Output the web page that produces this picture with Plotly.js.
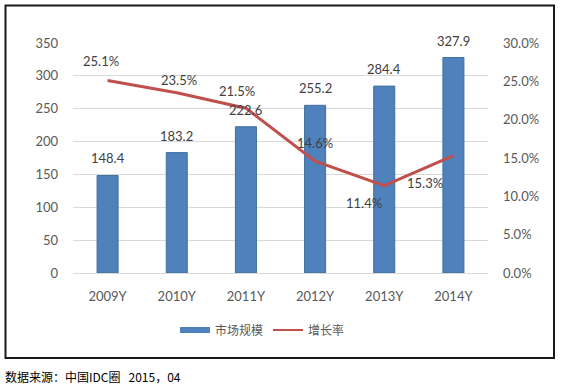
<!DOCTYPE html>
<html>
<head>
<meta charset="utf-8">
<script src="https://cdn.plot.ly/plotly-3.0.1.min.js"></script>
<style>
html,body{margin:0;padding:0;background:#fff;}
#chart{width:563px;height:387px;}
</style>
</head>
<body>
<div id="chart"></div>
<script>
// ---- data ----
const categories = ['2009Y', '2010Y', '2011Y', '2012Y', '2013Y', '2014Y'];
const marketSize = [148.4, 183.2, 222.6, 255.2, 284.4, 327.9];
const growthRate = [0.251, 0.235, 0.215, 0.146, 0.114, 0.153];
const growthLabels = ['25.1%', '23.5%', '21.5%', '14.6%', '11.4%', '15.3%'];
const seriesNames = ['市场规模', '增长率'];
const sourceNote = '数据来源：中国IDC圈\u00a0\u00a0 2015，04';

// ---- layout constants ----
const W = 563, H = 387;
const mL = 73, mR = 75, mT = 43, mB = 114;
const pw = W - mL - mR, ph = H - mT - mB;
const px = x => (x - mL) / pw;          // pixel -> paper x
const py = y => (H - mB - y) / ph;      // pixel -> paper y

const numFont = 'Lato, "Noto Sans CJK SC", sans-serif';
const cjkFont = '"Noto Sans CJK SC", "Noto Sans", sans-serif';
const barColor = '#4f81bd';
const lineColor = '#c0504d';

// label offsets for growth-rate labels (pixels)
const lineLabelShift = [[-7, 20], [2, 13], [-9, 17], [0, 18], [-20, -17], [-28, -27]];

const traces = [
  {
    type: 'bar', x: categories, y: marketSize, name: seriesNames[0],
    marker: {color: barColor, line: {color: '#41719c', width: 1}},
    showlegend: false, hoverinfo: 'none'
  },
  {
    type: 'scatter', mode: 'lines', x: categories, y: growthRate, yaxis: 'y2',
    name: seriesNames[1], line: {color: lineColor, width: 3},
    showlegend: false, hoverinfo: 'none'
  },
  // legend entries
  {type: 'scatter', mode: 'lines', x: [null], y: [null], name: seriesNames[0],
   line: {color: barColor, width: 6}, showlegend: true},
  {type: 'scatter', mode: 'lines', x: [null], y: [null], name: seriesNames[1], yaxis: 'y2',
   line: {color: lineColor, width: 2}, showlegend: true}
];

const annotations = [];
categories.forEach((c, i) => {
  annotations.push({
    x: c, y: marketSize[i], xref: 'x', yref: 'y',
    text: marketSize[i].toFixed(1), showarrow: false,
    yanchor: 'middle', xanchor: 'center', yshift: 17,
    font: {family: numFont, size: 13, color: '#404040'}
  });
  annotations.push({
    x: c, y: growthRate[i], xref: 'x', yref: 'y2',
    text: growthLabels[i], showarrow: false,
    yanchor: 'middle', xanchor: 'center',
    xshift: lineLabelShift[i][0], yshift: lineLabelShift[i][1],
    font: {family: numFont, size: 13, color: '#404040'}
  });
});
annotations.push({
  xref: 'paper', yref: 'paper', x: px(3), y: py(376),
  xanchor: 'left', yanchor: 'middle', showarrow: false,
  text: sourceNote, font: {family: cjkFont, size: 12, color: '#000000'}
});

const layout = {
  width: W, height: H,
  margin: {l: mL, r: mR, t: mT, b: mB, pad: 0},
  paper_bgcolor: '#ffffff', plot_bgcolor: '#ffffff',
  bargap: 0.696,
  showlegend: true,
  legend: {
    orientation: 'h', x: px(175), xanchor: 'left', y: py(330), yanchor: 'middle',
    font: {family: cjkFont, size: 12, color: '#595959'},
    itemwidth: 30, bgcolor: 'rgba(0,0,0,0)'
  },
  xaxis: {
    type: 'category', showgrid: false, zeroline: false, showline: false,
    ticks: '', ticklabelstandoff: 14,
    tickfont: {family: numFont, size: 13, color: '#595959'}, fixedrange: true
  },
  yaxis: {
    range: [0, 350], dtick: 50, tick0: 0,
    showgrid: true, gridcolor: '#d9d9d9', gridwidth: 1,
    zeroline: true, zerolinecolor: '#d9d9d9', zerolinewidth: 1,
    showline: false, ticks: '', ticklabelstandoff: 14,
    tickfont: {family: numFont, size: 13, color: '#595959'}, fixedrange: true
  },
  yaxis2: {
    overlaying: 'y', side: 'right', range: [0, 0.30], dtick: 0.05, tick0: 0,
    tickformat: '.1%', showgrid: false, zeroline: false, showline: false,
    ticks: '', ticklabelstandoff: 14,
    tickfont: {family: numFont, size: 13, color: '#595959'}, fixedrange: true
  },
  annotations: annotations,
  shapes: [{
    type: 'rect', xref: 'paper', yref: 'paper',
    x0: px(5.5), x1: px(554), y0: py(358), y1: py(5.5),
    line: {color: '#1a1a1a', width: 2}, fillcolor: 'rgba(0,0,0,0)', layer: 'below'
  }]
};

Plotly.newPlot('chart', traces, layout, {displayModeBar: false, staticPlot: true});
</script>
</body>
</html>
